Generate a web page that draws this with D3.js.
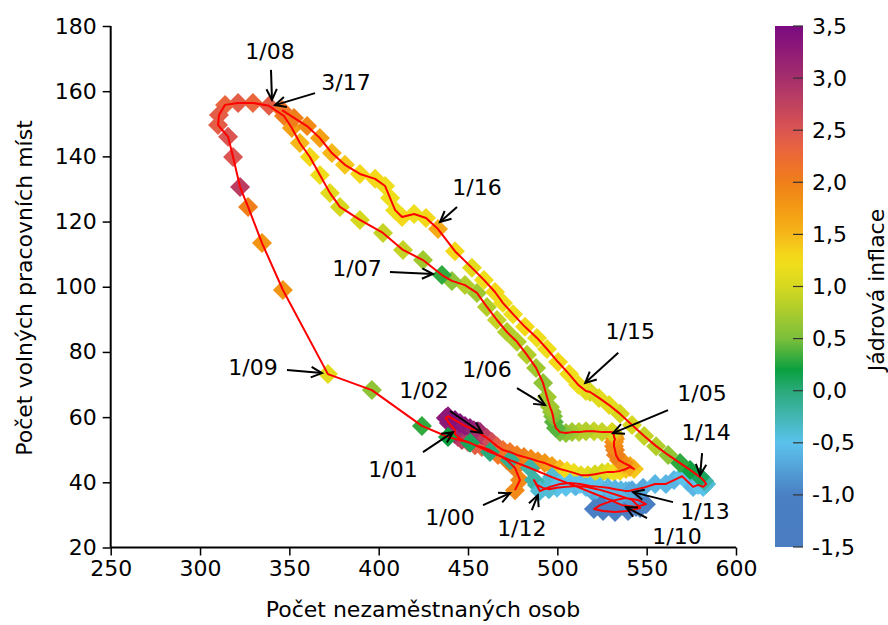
<!DOCTYPE html>
<html><head><meta charset="utf-8">
<script src="https://cdn.jsdelivr.net/npm/d3@7"></script>
<style>body{margin:0;background:#fff} text{font-family:"DejaVu Sans",sans-serif;fill:#000}</style>
</head><body><svg id="c" width="888" height="625"></svg>
<script>
// Monthly data 1/2000 .. 3/2017 (thousands)
const unemployed = [476.3,479.1,476.3,471.8,466.8,462.3,457.8,453.9,450.0,446.6,444.4,442.7,
442.7,439.3,437.6,438.8,442.7,445.5,448.3,451.1,453.3,455.6,456.7,457.8,
460.6,463.4,466.2,469.6,473.5,477.4,481.3,485.2,489.1,493.0,497.0,501.4,
505.4,509.3,513.2,517.1,521.1,525.0,528.3,531.7,535.1,538.4,540.7,542.9,
540.7,537.3,534.5,532.8,532.3,531.7,531.7,532.3,531.7,531.7,531.2,531.2,
530.6,525.0,520.5,516.0,512.1,508.2,504.8,501.5,499.2,498.1,497.6,497.0,
495.9,494.2,492.0,488.1,483.0,477.4,471.8,466.2,460.6,455.0,448.3,441.0,
435.4,424.8,413.6,402.4,389.5,378.3,372.7,367.1,361.5,355.9,351.4,347.0,
338.6,329.6,321.3,314.0,310.6,310.1,315.7,318.5,322.4,326.9,334.7,346.4,
371.6,396.2,424.2,438.8,451.1,462.3,473.5,484.7,497.0,509.9,521.1,529.5,
536.2,544.0,549.6,545.1,537.8,530.6,523.9,520.5,525.6,532.3,539.6,546.3,
541.8,535.1,528.3,522.2,516.0,510.4,504.8,499.8,495.3,491.9,488.6,486.9,
490.2,495.8,501.5,507.1,512.7,518.3,523.9,528.3,532.3,535.6,538.4,540.1,
541.8,548.0,554.7,560.8,565.3,569.8,573.2,576.0,578.8,581.6,583.3,582.2,
579.9,574.3,568.7,562.0,555.3,548.6,541.8,535.1,529.0,523.3,518.3,516.0,
511.7,506.6,500.4,494.2,488.6,481.9,475.2,469.6,465.1,458.9,452.2,442.7,
433.2,426.5,419.8,413.1,409.2,406.4,403.6,398.0,389.5,381.1,373.8,367.1,
359.9,352.6,345.9];
const vacancies = [37.6,40.7,44.4,46.8,48.4,49.9,50.8,51.4,52.4,53.0,53.9,54.8,
56.0,58.2,59.7,60.3,59.1,58.2,57.3,56.7,56.0,55.7,55.4,54.5,
53.6,52.4,51.1,49.9,49.3,48.4,47.8,47.2,46.5,45.9,45.0,44.1,
43.5,42.9,42.2,42.2,42.5,42.9,43.2,43.2,43.5,44.1,44.7,44.1,
45.0,45.9,46.8,48.4,49.9,51.1,52.4,53.3,53.9,54.5,54.8,55.1,
55.4,55.4,55.7,55.7,55.4,55.4,55.1,55.4,56.7,58.5,60.3,61.6,
63.1,66.2,70.5,75.1,79.1,83.1,86.1,89.8,93.8,98.1,100.5,101.8,
103.6,108.2,111.3,116.5,120.5,124.5,128.8,134.3,139.8,144.1,148.7,152.4,
155.5,156.4,156.4,155.8,152.7,149.6,146.0,139.8,130.6,124.5,113.4,99.0,
73.2,68.3,57.3,53.9,52.1,49.3,46.8,44.4,41.6,38.9,36.4,34.6,
33.0,32.4,33.3,34.6,35.2,34.3,33.0,31.8,31.2,30.9,31.2,32.1,
34.6,35.8,37.0,37.9,38.6,38.9,38.6,38.3,37.9,38.3,39.2,40.7,
37.3,38.6,39.5,39.8,39.5,38.9,38.6,38.3,37.9,37.6,37.3,37.3,
37.6,38.3,39.5,39.5,40.7,41.9,40.1,38.6,39.2,38.6,39.5,40.4,
41.6,43.8,45.9,48.4,51.1,54.2,57.6,61.0,63.7,65.9,67.7,68.0,
69.9,73.2,76.9,80.9,84.3,87.7,91.6,95.0,98.4,102.1,105.8,110.9,
117.7,121.1,122.3,121.4,123.5,127.2,130.9,133.1,134.6,137.4,141.0,145.6,
149.3,151.8,154.2];
const coreInflation = [1.9,1.9,2.0,2.0,2.1,2.2,2.3,2.4,2.5,2.7,2.8,3.0,
3.1,3.2,3.3,3.3,3.4,3.4,3.3,3.3,3.2,3.2,3.1,3.0,
2.8,2.6,2.4,2.2,2.1,2.0,2.0,1.9,1.9,1.8,1.7,1.5,
1.3,1.2,1.1,1.1,1.0,1.0,1.1,1.2,1.3,1.4,1.5,1.4,
1.6,1.8,1.9,2.0,2.0,1.9,1.9,1.8,1.8,1.7,1.6,1.5,
1.0,0.9,0.9,0.8,0.8,0.7,0.6,0.5,0.4,0.4,0.5,0.6,
0.7,0.7,0.6,0.7,0.8,0.8,0.8,0.9,0.8,0.7,0.8,0.6,
0.3,0.7,0.9,0.9,1.0,1.0,1.1,1.2,1.3,1.5,1.7,2.0,
2.4,2.3,2.4,2.3,2.4,2.4,2.5,2.5,2.8,2.0,1.8,1.8,
1.1,0.6,0.3,0.2,0.1,0.0,-0.1,-0.2,-0.4,-0.5,-0.7,-0.9,
-1.1,-1.2,-1.2,-1.2,-1.1,-1.0,-1.0,-1.1,-1.2,-1.2,-1.1,-1.0,
-0.8,-0.7,-0.7,-0.6,-0.6,-0.6,-0.5,-0.5,-0.4,-0.3,-0.2,-0.2,
-0.4,-0.4,-0.5,-0.5,-0.5,-0.5,-0.5,-0.6,-0.6,-0.6,-0.6,-0.6,
-0.7,-0.7,-0.6,-0.6,-0.6,-0.5,-0.5,-0.6,-0.5,-0.5,-0.4,-0.2,
0.1,0.2,0.3,0.6,0.8,0.9,1.0,1.0,1.1,1.1,1.0,1.1,
1.2,1.2,1.3,1.2,1.2,1.3,1.2,1.2,1.3,1.2,1.1,1.3,
1.6,1.3,1.2,1.3,1.2,1.2,1.2,1.3,1.3,1.4,1.5,1.7,
1.9,2.0,2.1];

const annotLabels = ["1/00","1/01","1/02","1/05","1/06","1/07","1/08","1/09","1/10","1/12","1/13","1/14","1/15","1/16","3/17"];
const annotIndex  = [0,12,24,60,72,84,96,108,120,144,156,168,180,192,206];

const xTicks = [250,300,350,400,450,500,550,600];
const yTicks = [20,40,60,80,100,120,140,160,180];
const cbTicks = [-1.5,-1.0,-0.5,0.0,0.5,1.0,1.5,2.0,2.5,3.0,3.5];
const colorStops  = [-1.5,-1.0,-0.5,0.0,0.2,0.5,1.0,1.25,1.5,1.75,2.0,2.25,2.5,3.0,3.5];
const colorValues = ["#4a7cc0","#4a80c4","#5bc2ec","#2aaa7a","#0aa040","#7cbf3a","#d6d820","#f4e01a","#f6b71a","#f39a12","#ef7f1a","#ee6a36","#db5552","#a52e6c","#7a0a80"];

// layout (pixel offsets of annotation parts relative to marker): tip, arrow start, text centre
const annotLayout = [
 [[-5,3],[-32,15],[-65,27]],
 [[-2,2],[-32,22],[-62,39]],
 [[-5,-5],[-37,-27],[-63,-47]],
 [[1,1],[56,-22],[90,-39]],
 [[-5,-2],[-33,-19],[-63,-38]],
 [[-9,-1],[-52,-3],[-85,-7]],
 [[3,-6],[2,-36],[1,-54]],
 [[-6,-1],[-41,-4],[-75,-7]],
 [[4,2],[25,13],[55,31]],
 [[-2,4],[-8,19],[-18,37]],
 [[1,2],[41,12],[73,21]],
 [[0,-2],[2,-24],[6,-45]],
 [[7,-2],[40,-32],[52,-53]],
 [[2,-7],[19,-22],[39,-42]],
 [[-7,-5],[33,-17],[64,-28]]
];

const svg = d3.select("#c");
const FS = 22;
const x = d3.scaleLinear().domain([250,600]).range([110.7,736]);
const y = d3.scaleLinear().domain([20,180]).range([547.5,26]);
const color = d3.scaleLinear().domain(colorStops).range(colorValues).interpolate(d3.interpolateRgb).clamp(true);

const data = unemployed.map((u,i)=>({u, v:vacancies[i], c:coreInflation[i]}));

// markers
const R = 10;
svg.append("g").selectAll("path").data(data).join("path")
  .attr("d", `M0,${-R}L${R},0L0,${R}L${-R},0Z`)
  .attr("transform", d=>`translate(${x(d.u)},${y(d.v)})`)
  .attr("fill", d=>color(d.c));

// red line
svg.append("path").datum(data)
  .attr("d", d3.line().x(d=>x(d.u)).y(d=>y(d.v)))
  .attr("fill","none").attr("stroke","#ff0000").attr("stroke-width",2).attr("stroke-linejoin","round");

// axes
const xAxis = svg.append("g").attr("transform","translate(0,547.5)")
  .call(d3.axisBottom(x).tickValues(xTicks).tickSize(8).tickPadding(5).tickFormat(d3.format("d")));
const yAxis = svg.append("g").attr("transform","translate(110.7,0)")
  .call(d3.axisLeft(y).tickValues(yTicks).tickSize(8).tickPadding(6).tickFormat(d3.format("d")));
[xAxis,yAxis].forEach(a=>{
  a.select(".domain").attr("stroke","#000").attr("stroke-width",2);
  a.selectAll(".tick line").attr("stroke","#000").attr("stroke-width",1.5);
  a.selectAll(".tick text").attr("font-size",FS).attr("font-family","DejaVu Sans").attr("fill","#000");
});
xAxis.select(".domain").attr("d","M110.7,0H736");
yAxis.select(".domain").attr("d","M0,547.5V26");

svg.append("text").attr("x",423).attr("y",617).attr("text-anchor","middle").attr("font-size",FS)
  .text("Počet nezaměstnaných osob");
svg.append("text").attr("transform","translate(32,288) rotate(-90)").attr("text-anchor","middle").attr("font-size",FS)
  .text("Počet volných pracovních míst");

// annotations
const ann = svg.append("g");
annotLabels.forEach((lab,k)=>{
  const d = data[annotIndex[k]];
  const px = x(d.u), py = y(d.v);
  const [tip,st,tx] = annotLayout[k];
  const x1 = px+st[0], y1 = py+st[1], x2 = px+tip[0], y2 = py+tip[1];
  ann.append("line").attr("x1",x1).attr("y1",y1).attr("x2",x2).attr("y2",y2)
    .attr("stroke","#000").attr("stroke-width",2);
  const ang = Math.atan2(y1-y2, x1-x2), L = 12, a = 0.45;
  ann.append("path").attr("d",`M${x2+L*Math.cos(ang+a)},${y2+L*Math.sin(ang+a)}L${x2},${y2}L${x2+L*Math.cos(ang-a)},${y2+L*Math.sin(ang-a)}`)
    .attr("fill","none").attr("stroke","#000").attr("stroke-width",2);
  ann.append("text").attr("x",px+tx[0]).attr("y",py+tx[1]).attr("text-anchor","middle")
    .attr("dominant-baseline","central").attr("font-size",FS).text(lab);
});

// colorbar
const cb = d3.scaleLinear().domain([-1.5,3.5]).range([547,26]);
const grad = svg.append("defs").append("linearGradient").attr("id","g1")
  .attr("x1",0).attr("y1",1).attr("x2",0).attr("y2",0);
d3.range(0,51).forEach(i=>{
  const v = -1.5 + i*0.1;
  grad.append("stop").attr("offset",(i/50)).attr("stop-color",color(v));
});
svg.append("rect").attr("x",775).attr("y",cb(3.5)).attr("width",28).attr("height",cb(-1.5)-cb(3.5)).attr("fill","url(#g1)");
const cbg = svg.append("g");
cbTicks.forEach(t=>{
  cbg.append("line").attr("x1",793).attr("x2",803).attr("y1",cb(t)).attr("y2",cb(t)).attr("stroke","#333").attr("stroke-width",1.2);
  cbg.append("text").attr("x",812).attr("y",cb(t)).attr("dominant-baseline","central").attr("font-size",FS)
    .text(d3.format(".1f")(t).replace(".",",").replace("\u2212","-"));
});
svg.append("text").attr("transform","translate(884,290) rotate(-90)").attr("text-anchor","middle").attr("font-size",FS)
  .text("Jádrová inflace");
</script></body></html>
